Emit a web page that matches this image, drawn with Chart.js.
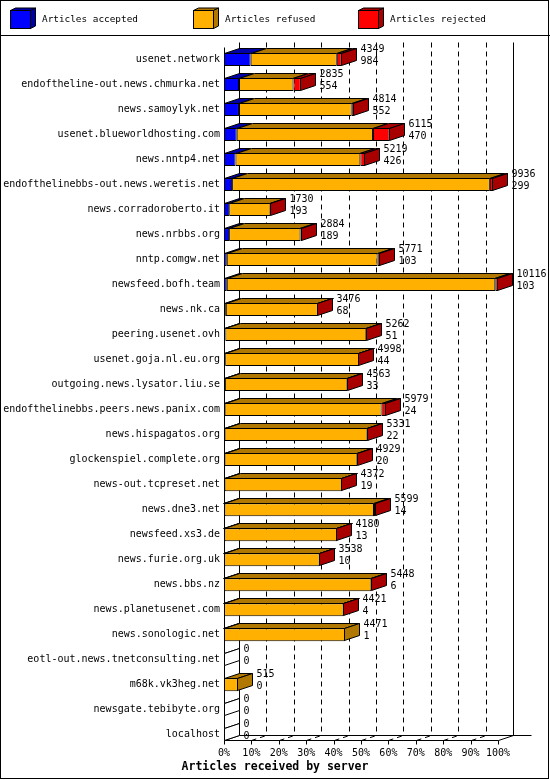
<!DOCTYPE html>
<html><head><meta charset="utf-8">
<script src="https://cdn.jsdelivr.net/npm/chart.js@4.4.1/dist/chart.umd.min.js"></script>
<style>html,body{margin:0;padding:0;background:#fff}canvas{display:block}</style>
</head><body>
<canvas id="c" width="550" height="780"></canvas>
<script>
const servers = [
  'usenet.network','endoftheline-out.news.chmurka.net','news.samoylyk.net','usenet.blueworldhosting.com',
  'news.nntp4.net','endofthelinebbs-out.news.weretis.net','news.corradoroberto.it','news.nrbbs.org',
  'nntp.comgw.net','newsfeed.bofh.team','news.nk.ca','peering.usenet.ovh','usenet.goja.nl.eu.org',
  'outgoing.news.lysator.liu.se','endofthelinebbs.peers.news.panix.com','news.hispagatos.org',
  'glockenspiel.complete.org','news-out.tcpreset.net','news.dne3.net','newsfeed.xs3.de','news.furie.org.uk',
  'news.bbs.nz','news.planetusenet.com','news.sonologic.net','eotl-out.news.tnetconsulting.net',
  'm68k.vk3heg.net','newsgate.tebibyte.org','localhost'
];
const offered  = [4349,2835,4814,6115,5219,9936,1730,2884,5771,10116,3476,5262,4998,4563,5979,5331,4929,4372,5599,4180,3538,5448,4421,4471,0,515,0,0];
const accepted = [984,554,552,470,426,299,193,189,103,103,68,51,44,33,24,22,20,19,14,13,10,6,4,1,0,0,0,0];
const refused  = [3180,2011,4162,5030,4608,9517,1522,2635,5568,9913,3398,5203,4946,4524,5795,5274,4904,4348,5525,4162,3523,5437,4413,4470,0,515,0,0];
const rejected = [185,270,100,615,185,120,15,60,100,100,10,8,8,6,160,35,5,5,60,5,5,5,4,0,0,0,0,0];
const tickLabels = ['0%','10%','20%','30%','40%','50%','60%','70%','80%','90%','100%'];
const seriesLabels = ['Articles accepted','Articles refused','Articles rejected'];
const seriesColors = ['#0000FF','#FFB000','#FF0000'];
const seriesDark   = ['#0000A8','#B07800','#A80000'];
const axisTitle = 'Articles received by server';

const MAXV = Math.max(...offered);
const DX = 15, DY = 5;
const FONT = '"DejaVu Sans Mono", monospace';

function poly(ctx, pts, fill) {
  ctx.beginPath();
  ctx.moveTo(pts[0][0], pts[0][1]);
  for (let k = 1; k < pts.length; k++) ctx.lineTo(pts[k][0], pts[k][1]);
  ctx.closePath();
  if (fill) { ctx.fillStyle = fill; ctx.fill(); }
  ctx.stroke();
}
function line(ctx, x0, y0, x1, y1) {
  ctx.beginPath(); ctx.moveTo(x0, y0); ctx.lineTo(x1, y1); ctx.stroke();
}
function floorY(chart) {
  const meta = chart.getDatasetMeta(0);
  const el = meta.data[meta.data.length - 1];
  return Math.round(el.y + el.height / 2) - 0.5;
}

const threeD = {
  id: 'threeD',
  beforeDatasetsDraw(chart) {
    const {ctx, chartArea: ca, scales: {x}} = chart;
    const fy = floorY(chart);
    const topB = Math.round(ca.top) - DY + 0.5;
    const x0 = Math.round(x.getPixelForValue(0)) + 0.5;
    const x1 = Math.round(x.getPixelForValue(MAXV)) + 0.5;
    ctx.save();
    ctx.strokeStyle = '#000';
    ctx.lineWidth = 1;
    // dashed back-wall grid and floor lines
    ctx.setLineDash([5, 4]);
    x.ticks.forEach((t, i) => {
      if (i === 0 || i === x.ticks.length - 1) return;
      const px = Math.round(x.getPixelForValue(t.value)) + 0.5;
      line(ctx, px + DX, topB, px + DX, fy - DY);
      line(ctx, px, fy, px + DX, fy - DY);
    });
    ctx.setLineDash([]);
    // walls
    line(ctx, x0 + DX, topB, x0 + DX, fy - DY);
    line(ctx, x1 + DX, topB, x1 + DX, fy - DY);
    line(ctx, x0, Math.round(ca.top) + 0.5, x0, fy);
    line(ctx, x0 + DX, fy - DY, x1 + DX + 18, fy - DY);
    line(ctx, x0, fy, x1, fy);
    line(ctx, x1, fy, x1 + DX, fy - DY);
    line(ctx, x0, fy, x0 + DX, fy - DY);
    // front tick marks
    x.ticks.forEach(t => {
      const px = Math.round(x.getPixelForValue(t.value)) + 0.5;
      line(ctx, px, fy, px, fy + 4);
    });
    ctx.restore();
  },
  afterDatasetsDraw(chart) {
    const {ctx, scales: {x}} = chart;
    const n = chart.data.labels.length;
    const nd = chart.data.datasets.length;
    ctx.save();
    ctx.strokeStyle = '#000';
    ctx.lineWidth = 1;
    for (let i = 0; i < n; i++) {
      let last = -1, end = Math.round(x.getPixelForValue(0)) + 0.5, top = 0, bot = 0;
      for (let d = 0; d < nd; d++) {
        const el = chart.getDatasetMeta(d).data[i];
        const v = chart.data.datasets[d].data[i];
        top = Math.round(el.y - el.height / 2) + 0.5;
        bot = Math.round(el.y + el.height / 2) - 0.5;
        if (v > 0) {
          const a = Math.round(Math.min(el.base, el.x)) + 0.5;
          const b = Math.round(Math.max(el.base, el.x)) - 0.5;
          poly(ctx, [[a, top], [b, top], [b + DX, top - DY], [a + DX, top - DY]], seriesDark[d]);
          last = d; end = b;
        }
      }
      if (last < 0) line(ctx, end, top, end + DX, top - DY);
      poly(ctx, [[end, top], [end + DX, top - DY], [end + DX, bot - DY], [end, bot]], last < 0 ? '#fff' : seriesDark[last]);
      // value labels
      const cy = (top + bot) / 2;
      ctx.fillStyle = '#000';
      ctx.font = '10px ' + FONT;
      ctx.textAlign = 'left';
      ctx.textBaseline = 'middle';
      ctx.fillText(String(offered[i]), end + DX + 4, cy - 10);
      ctx.fillText(String(accepted[i]), end + DX + 4, cy + 2);
    }
    ctx.restore();
  },
  afterDraw(chart) {
    const {ctx} = chart;
    ctx.save();
    ctx.strokeStyle = '#000';
    ctx.lineWidth = 1;
    const lx = [10, 193, 358];
    chart.data.datasets.forEach((ds, d) => {
      const bx = lx[d] + 0.5, by = 10.5, w = 20, h = 18;
      ctx.fillStyle = ds.backgroundColor;
      ctx.fillRect(bx, by, w, h);
      ctx.strokeRect(bx, by, w, h);
      poly(ctx, [[bx, by], [bx + w, by], [bx + w + 5, by - 2.5], [bx + 5, by - 2.5]], seriesDark[d]);
      poly(ctx, [[bx + w, by], [bx + w + 5, by - 2.5], [bx + w + 5, by + h - 2.5], [bx + w, by + h]], seriesDark[d]);
      ctx.fillStyle = '#000';
      ctx.font = '9.4px ' + FONT;
      ctx.textAlign = 'left';
      ctx.textBaseline = 'middle';
      ctx.fillText(ds.label, lx[d] + 32, 20);
    });
    line(ctx, 0, 35.5, 550, 35.5);
    ctx.strokeRect(0.5, 0.5, 548, 778);
    ctx.restore();
  }
};

new Chart(document.getElementById('c'), {
  type: 'bar',
  data: {
    labels: servers,
    datasets: [
      {label: seriesLabels[0], data: accepted, backgroundColor: seriesColors[0]},
      {label: seriesLabels[1], data: refused, backgroundColor: seriesColors[1]},
      {label: seriesLabels[2], data: rejected, backgroundColor: seriesColors[2]}
    ].map(ds => Object.assign(ds, {borderColor: '#000', borderWidth: 1, borderSkipped: false, barPercentage: 0.52, categoryPercentage: 1, clip: false}))
  },
  plugins: [threeD],
  options: {
    responsive: false,
    animation: false,
    indexAxis: 'y',
    layout: {padding: {left: 0, right: 0, top: 47, bottom: 0}},
    plugins: {
      legend: {display: false},
      tooltip: {enabled: false},
      title: {display: true, position: 'bottom', text: axisTitle, color: '#000',
        font: {family: FONT, size: 11.5, weight: 'bold', lineHeight: 1.2}, padding: {top: 0, bottom: 6}}
    },
    scales: {
      x: {
        type: 'linear', stacked: true, min: 0, max: MAXV,
        grid: {display: false, drawTicks: false}, border: {display: false},
        afterBuildTicks: s => { s.ticks = tickLabels.map((t, i) => ({value: MAXV * i / (tickLabels.length - 1)})); },
        afterFit: s => { s.height = 13; },
        ticks: {autoSkip: false, maxRotation: 0, padding: 0, color: '#000', font: {family: FONT, size: 10},
          callback: (v, i) => tickLabels[i]}
      },
      y: {
        stacked: true, grid: {display: false, drawTicks: false}, border: {display: false},
        afterFit: s => { s.width = 224; },
        ticks: {autoSkip: false, color: '#000', padding: 4, font: {family: FONT, size: 10}}
      },
      yR: {
        type: 'linear', position: 'right', display: true,
        grid: {display: false, drawTicks: false}, border: {display: false},
        ticks: {display: false},
        afterFit: s => { s.width = 52; }
      }
    }
  }
});
</script>
</body></html>
